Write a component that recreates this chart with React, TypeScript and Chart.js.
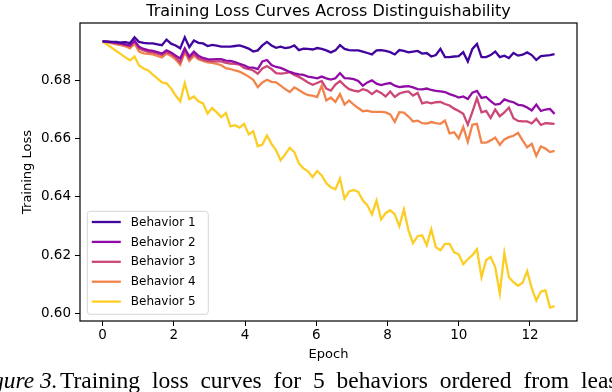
import React, { useEffect, useRef } from "react";
import { Chart, registerables } from "chart.js";

Chart.register(...registerables);

const TITLE = "Training Loss Curves Across Distinguishability";
const X_LABEL = "Epoch";
const Y_LABEL = "Training Loss";
const CAPTION_LEAD = "Figure 3.";
const CAPTION_TEXT = "Training loss curves for 5 behaviors ordered from least to most distinguishable.";
const SERIES_NAMES = ["Behavior 1", "Behavior 2", "Behavior 3", "Behavior 4", "Behavior 5"];
const COLORS = ["#41049d", "#8f0da4", "#cc4778", "#f2844b", "#fcce25"];
const X_TICKS = [0, 2, 4, 6, 8, 10, 12];
const Y_TICKS = [0.6, 0.62, 0.64, 0.66, 0.68];
const LAST_EPOCH = 12.69;

const behavior1 = [
  0.6934, 0.6933, 0.6932, 0.6932, 0.6930, 0.6931, 0.6928, 0.6948, 0.6932, 0.6929,
  0.6927, 0.6927, 0.6924, 0.6921, 0.6940, 0.6926, 0.6920, 0.6910, 0.6948, 0.6914,
  0.6937, 0.6929, 0.6927, 0.6918, 0.6922, 0.6919, 0.6916, 0.6916, 0.6916, 0.6918,
  0.6920, 0.6915, 0.6909, 0.6899, 0.6903, 0.6920, 0.6932, 0.6920, 0.6912, 0.6916,
  0.6911, 0.6913, 0.6920, 0.6904, 0.6909, 0.6908, 0.6906, 0.6911, 0.6908, 0.6903,
  0.6896, 0.6903, 0.6921, 0.6908, 0.6904, 0.6903, 0.6903, 0.6899, 0.6894, 0.6889,
  0.6903, 0.6904, 0.6901, 0.6897, 0.6889, 0.6904, 0.6901, 0.6896, 0.6899, 0.6901,
  0.6892, 0.6894, 0.6882, 0.6887, 0.6908, 0.6880, 0.6880, 0.6882, 0.6883, 0.6897,
  0.6865, 0.6908, 0.6925, 0.6880, 0.6880, 0.6887, 0.6899, 0.6880, 0.6885, 0.6877,
  0.6894, 0.6885, 0.6888, 0.6896, 0.6887, 0.6870, 0.6883, 0.6885, 0.6887, 0.6890,
];

const behavior2 = [
  0.6934, 0.6933, 0.6931, 0.6929, 0.6927, 0.6924, 0.6920, 0.6937, 0.6915, 0.6908,
  0.6904, 0.6901, 0.6897, 0.6892, 0.6903, 0.6896, 0.6885, 0.6875, 0.6910, 0.6882,
  0.6899, 0.6884, 0.6877, 0.6873, 0.6872, 0.6873, 0.6873, 0.6868, 0.6867, 0.6863,
  0.6857, 0.6852, 0.6844, 0.6844, 0.6839, 0.6865, 0.6870, 0.6853, 0.6846, 0.6843,
  0.6836, 0.6829, 0.6824, 0.6821, 0.6819, 0.6813, 0.6810, 0.6807, 0.6813, 0.6807,
  0.6803, 0.6807, 0.6825, 0.6808, 0.6807, 0.6804, 0.6798, 0.6782, 0.6793, 0.6800,
  0.6789, 0.6784, 0.6788, 0.6791, 0.6782, 0.6777, 0.6779, 0.6780, 0.6776, 0.6770,
  0.6769, 0.6772, 0.6767, 0.6764, 0.6762, 0.6760, 0.6753, 0.6748, 0.6741, 0.6745,
  0.6736, 0.6758, 0.6764, 0.6740, 0.6743, 0.6729, 0.6717, 0.6719, 0.6735, 0.6729,
  0.6725, 0.6716, 0.6714, 0.6707, 0.6697, 0.6717, 0.6695, 0.6700, 0.6702, 0.6685,
];

const behavior3 = [
  0.6934, 0.6932, 0.6930, 0.6928, 0.6925, 0.6921, 0.6917, 0.6933, 0.6909, 0.6903,
  0.6898, 0.6896, 0.6892, 0.6887, 0.6897, 0.6891, 0.6879, 0.6862, 0.6903, 0.6875,
  0.6891, 0.6876, 0.6870, 0.6867, 0.6865, 0.6865, 0.6865, 0.6860, 0.6858, 0.6857,
  0.6854, 0.6843, 0.6839, 0.6834, 0.6823, 0.6841, 0.6849, 0.6839, 0.6825, 0.6823,
  0.6825, 0.6828, 0.6819, 0.6812, 0.6803, 0.6793, 0.6785, 0.6791, 0.6798, 0.6772,
  0.6765, 0.6786, 0.6798, 0.6782, 0.6770, 0.6765, 0.6762, 0.6770, 0.6765, 0.6753,
  0.6765, 0.6757, 0.6745, 0.6762, 0.6743, 0.6755, 0.6760, 0.6762, 0.6748, 0.6757,
  0.6721, 0.6725, 0.6721, 0.6725, 0.6726, 0.6719, 0.6714, 0.6703, 0.6695, 0.6685,
  0.6648, 0.6692, 0.6739, 0.6690, 0.6695, 0.6671, 0.6700, 0.6677, 0.6690, 0.6707,
  0.6670, 0.6661, 0.6659, 0.6659, 0.6652, 0.6668, 0.6647, 0.6653, 0.6652, 0.6651,
];

const behavior4 = [
  0.6934, 0.6931, 0.6928, 0.6924, 0.6921, 0.6917, 0.6910, 0.6926, 0.6899, 0.6893,
  0.6891, 0.6889, 0.6884, 0.6879, 0.6892, 0.6884, 0.6872, 0.6854, 0.6897, 0.6867,
  0.6885, 0.6873, 0.6867, 0.6862, 0.6860, 0.6857, 0.6852, 0.6842, 0.6839, 0.6834,
  0.6830, 0.6822, 0.6813, 0.6802, 0.6777, 0.6793, 0.6802, 0.6795, 0.6793, 0.6782,
  0.6770, 0.6760, 0.6776, 0.6767, 0.6757, 0.6749, 0.6748, 0.6743, 0.6782, 0.6731,
  0.6741, 0.6726, 0.6753, 0.6717, 0.6731, 0.6717, 0.6705, 0.6694, 0.6696, 0.6692,
  0.6692, 0.6692, 0.6690, 0.6683, 0.6658, 0.6691, 0.6689, 0.6676, 0.6659, 0.6662,
  0.6653, 0.6652, 0.6657, 0.6653, 0.6651, 0.6662, 0.6618, 0.6622, 0.6601, 0.6640,
  0.6589, 0.6648, 0.6651, 0.6586, 0.6586, 0.6594, 0.6604, 0.6579, 0.6597, 0.6605,
  0.6610, 0.6620, 0.6594, 0.6570, 0.6582, 0.6541, 0.6573, 0.6566, 0.6554, 0.6558,
];

const behavior5 = [
  0.6934, 0.6923, 0.6912, 0.6901, 0.6890, 0.6879, 0.6869, 0.6882, 0.6851, 0.6841,
  0.6834, 0.6820, 0.6807, 0.6793, 0.6790, 0.6772, 0.6748, 0.6728, 0.6790, 0.6735,
  0.6745, 0.6728, 0.6721, 0.6686, 0.6705, 0.6690, 0.6674, 0.6688, 0.6642, 0.6646,
  0.6638, 0.6651, 0.6615, 0.6625, 0.6574, 0.6580, 0.6611, 0.6582, 0.6560, 0.6526,
  0.6546, 0.6569, 0.6554, 0.6515, 0.6498, 0.6488, 0.6468, 0.6489, 0.6474, 0.6447,
  0.6433, 0.6426, 0.6463, 0.6394, 0.6419, 0.6424, 0.6417, 0.6388, 0.6371, 0.6340,
  0.6388, 0.6323, 0.6344, 0.6354, 0.6340, 0.6299, 0.6357, 0.6285, 0.6241, 0.6265,
  0.6268, 0.6234, 0.6289, 0.6227, 0.6217, 0.6239, 0.6239, 0.6210, 0.6203, 0.6169,
  0.6186, 0.6200, 0.6220, 0.6124, 0.6183, 0.6194, 0.6159, 0.6069, 0.6207, 0.6124,
  0.6107, 0.6095, 0.6105, 0.6145, 0.6087, 0.6044, 0.6075, 0.6080, 0.6020, 0.6025,
];

const SERIES = [behavior1, behavior2, behavior3, behavior4, behavior5];

const FONT = "'DejaVu Sans', sans-serif";

const decorPlugin = {
  id: "decor",
  afterDraw(chart: any) {
    const { ctx, chartArea: a } = chart;
    ctx.save();
    ctx.strokeStyle = "#000";
    ctx.lineWidth = 1.2;
    ctx.strokeRect(a.left, a.top, a.right - a.left, a.bottom - a.top);

    ctx.fillStyle = "#000";
    ctx.font = `16px ${FONT}`;
    ctx.textAlign = "center";
    ctx.textBaseline = "alphabetic";
    ctx.fillText(TITLE, (a.left + a.right) / 2, 16);

    const bx = a.left + 7.3;
    const bw = 121;
    const bh = 103;
    const by = a.bottom - 6.7 - bh;
    const r = 3;
    ctx.beginPath();
    ctx.moveTo(bx + r, by);
    ctx.lineTo(bx + bw - r, by);
    ctx.arcTo(bx + bw, by, bx + bw, by + r, r);
    ctx.lineTo(bx + bw, by + bh - r);
    ctx.arcTo(bx + bw, by + bh, bx + bw - r, by + bh, r);
    ctx.lineTo(bx + r, by + bh);
    ctx.arcTo(bx, by + bh, bx, by + bh - r, r);
    ctx.lineTo(bx, by + r);
    ctx.arcTo(bx, by, bx + r, by, r);
    ctx.closePath();
    ctx.fillStyle = "rgba(255,255,255,0.8)";
    ctx.fill();
    ctx.strokeStyle = "#d6d6d6";
    ctx.lineWidth = 1;
    ctx.stroke();

    ctx.font = `12px ${FONT}`;
    ctx.textAlign = "left";
    ctx.textBaseline = "middle";
    SERIES_NAMES.forEach((name, i) => {
      const y = by + 10.7 + i * 19.9;
      ctx.strokeStyle = COLORS[i];
      ctx.lineWidth = 2.3;
      ctx.beginPath();
      ctx.moveTo(bx + 4.5, y);
      ctx.lineTo(bx + 33.5, y);
      ctx.stroke();
      ctx.fillStyle = "#000";
      ctx.fillText(name, bx + 43.5, y + 0.5);
    });
    ctx.restore();
  },
};

export default function App() {
  const canvasRef = useRef<HTMLCanvasElement | null>(null);

  useEffect(() => {
    const canvas = canvasRef.current;
    if (!canvas) return;
    const step = LAST_EPOCH / (behavior1.length - 1);
    const datasets = SERIES.map((values, si) => ({
      label: SERIES_NAMES[si],
      data: values.map((v, i) => ({ x: i * step, y: v })),
      borderColor: COLORS[si],
      backgroundColor: COLORS[si],
      borderWidth: 2.3,
      pointRadius: 0,
      tension: 0,
      fill: false,
    }));

    const chart = new Chart(canvas, {
      type: "line",
      data: { datasets },
      options: {
        animation: false,
        responsive: false,
        maintainAspectRatio: false,
        devicePixelRatio: 1,
        layout: { padding: { top: 23, right: 35, bottom: 0, left: 0 } },
        plugins: {
          legend: { display: false },
          title: { display: false },
          tooltip: { enabled: false },
        },
        scales: {
          x: {
            type: "linear",
            min: -0.634,
            max: 13.32,
            afterFit: (s: any) => {
              s.height = 71;
            },
            afterBuildTicks: (s: any) => {
              s.ticks = X_TICKS.map((v) => ({ value: v }));
            },
            ticks: {
              color: "#000",
              font: { family: FONT, size: 13.5 },
              padding: 1,
              maxRotation: 0,
              autoSkip: false,
              callback: (v: any) => String(v),
            },
            grid: {
              drawOnChartArea: false,
              drawTicks: true,
              tickLength: 5,
              color: "#000",
              lineWidth: 1,
            },
            border: { display: false },
            title: {
              display: true,
              text: X_LABEL,
              color: "#000",
              font: { family: FONT, size: 13 },
              padding: 30,
            },
          },
          y: {
            type: "linear",
            min: 0.5974,
            max: 0.6997,
            afterFit: (s: any) => {
              s.width = 80;
            },
            afterBuildTicks: (s: any) => {
              s.ticks = Y_TICKS.map((v) => ({ value: v }));
            },
            ticks: {
              color: "#000",
              font: { family: FONT, size: 13.5 },
              padding: 4,
              autoSkip: false,
              callback: (v: any) => Number(v).toFixed(2),
            },
            grid: {
              drawOnChartArea: false,
              drawTicks: true,
              tickLength: 5,
              color: "#000",
              lineWidth: 1,
            },
            border: { display: false },
            title: {
              display: true,
              text: Y_LABEL,
              color: "#000",
              font: { family: FONT, size: 13 },
              padding: 20,
            },
          },
        },
      },
      plugins: [decorPlugin],
    });
    return () => chart.destroy();
  }, []);

  const captionFont: React.CSSProperties = {
    position: "absolute",
    top: 369,
    whiteSpace: "nowrap",
    fontFamily: "'Liberation Serif', 'Times New Roman', serif",
    fontSize: 23.5,
    lineHeight: 1,
    color: "#000",
  };

  return (
    <div
      style={{
        position: "fixed",
        left: 0,
        top: 0,
        width: 612,
        height: 392,
        overflow: "hidden",
        background: "#fff",
      }}
    >
      <canvas ref={canvasRef} width={612} height={392} style={{ display: "block", width: 612, height: 392 }} />
      <div style={{ ...captionFont, left: -29, fontStyle: "italic" }}>{CAPTION_LEAD}</div>
      <div style={{ ...captionFont, left: 60, wordSpacing: 6 }}>{CAPTION_TEXT}</div>
    </div>
  );
}
